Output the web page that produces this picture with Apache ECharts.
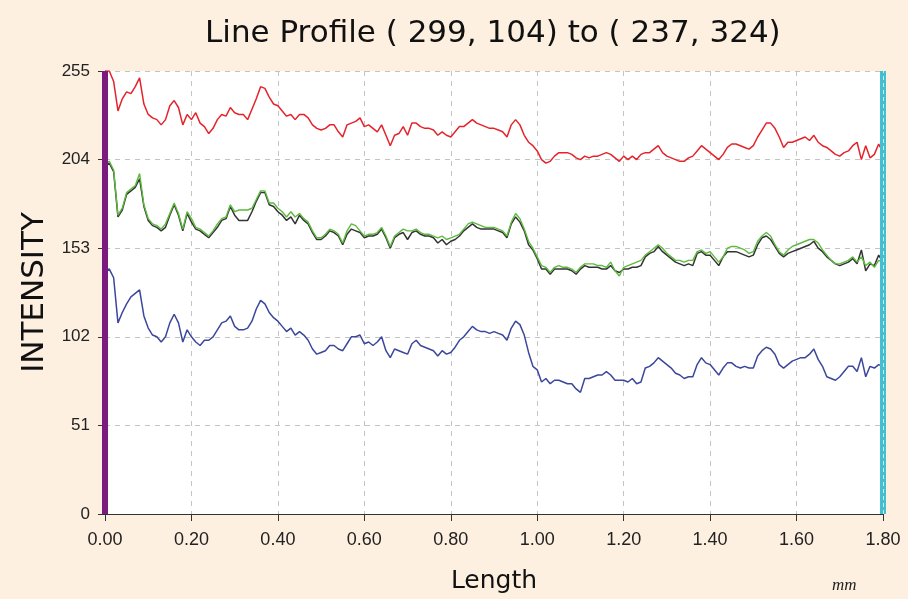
<!DOCTYPE html>
<html>
<head>
<meta charset="utf-8">
<script src="https://cdn.jsdelivr.net/npm/echarts@6/dist/echarts.min.js"></script>
<style>
html,body{margin:0;padding:0;background:#fdf0e1;}
#chart{width:908px;height:599px;}
</style>
</head>
<body>
<div id="chart"></div>
<script>
// sampling step along the profile (mm)
const STEP_MM = 0.01;

const redValues = [255,255,249,232,239,243,242,246,251,236,
230,228,227,224,227,235,238,234,224,230,
227,231,225,223,219,222,227,230,229,234,
231,230,230,227,233,239,246,245,240,236,
235,232,229,230,227,230,230,228,224,222,
221,222,224,224,220,217,224,225,226,228,
223,224,222,220,224,218,212,218,219,223,
218,225,225,223,222,222,221,218,220,218,
217,220,223,223,225,227,225,224,223,222,
222,221,220,217,224,227,224,218,214,212,
209,204,202,203,206,208,208,208,207,205,
204,206,205,206,206,207,208,207,205,203,
206,204,206,204,207,208,208,210,212,208,
206,205,204,203,203,205,206,209,212,210,
208,206,204,207,211,213,213,212,211,210,
212,217,221,225,225,222,217,211,214,214,
215,216,217,215,218,214,212,211,209,207,
206,208,209,212,214,204,212,205,207,213,
208];

const greenValues = [202,203,198,172,176,185,187,189,196,178,
170,167,166,164,167,173,179,173,164,174,
170,165,164,162,160,163,167,170,171,178,
174,175,175,175,176,181,186,186,179,179,
176,174,171,174,171,173,170,168,163,159,
159,161,164,163,161,156,163,167,166,163,
160,161,161,162,165,160,154,160,162,164,
163,163,164,162,161,161,160,159,160,158,
159,160,161,164,167,168,167,166,165,165,
165,164,163,160,168,173,170,164,157,153,
148,143,142,139,142,143,142,142,141,139,
142,144,144,144,143,143,142,145,140,137,
142,143,144,145,146,149,151,153,155,153,
150,148,146,146,145,146,146,151,152,150,
151,148,145,148,153,154,154,153,152,150,
151,157,160,162,160,155,151,149,152,154,
155,156,157,158,158,156,152,149,146,144,
144,145,146,148,145,148,143,145,142,146,
145];

const blackValues = [201,202,197,171,175,184,186,188,193,177,
169,166,165,163,165,172,178,172,163,173,
168,164,163,161,159,162,165,169,170,177,
172,169,169,169,174,180,185,185,178,177,
174,172,169,171,167,172,169,167,162,158,
158,160,163,162,160,155,161,164,163,162,
159,160,160,161,164,159,153,159,161,162,
158,162,163,161,160,160,159,156,158,155,
157,158,160,163,165,167,165,164,164,164,
164,163,162,159,167,171,168,163,155,152,
147,141,141,138,141,141,141,141,140,138,
141,143,142,142,142,141,141,143,140,139,
141,141,142,142,143,148,150,151,154,151,
149,147,145,144,143,144,143,150,151,149,
149,146,143,148,151,151,151,150,149,148,
149,155,159,160,158,154,150,148,150,151,
152,153,154,155,157,153,151,148,146,144,
143,144,145,147,144,152,140,144,143,149,
145];

const blueValues = [140,141,136,110,116,121,125,127,129,114,
107,103,102,99,102,110,115,110,99,106,
102,99,97,100,100,102,106,110,111,114,
108,106,106,107,111,118,123,121,116,113,
111,108,105,107,103,105,103,100,95,92,
93,94,97,97,95,94,98,102,102,103,
98,99,97,99,102,94,90,95,94,93,
92,98,100,97,96,95,94,91,94,92,
93,96,100,102,105,108,106,105,105,104,
105,104,103,100,107,111,109,103,93,85,
83,76,78,75,77,77,76,75,75,72,
70,78,78,79,80,80,82,80,77,77,
77,76,78,75,76,84,85,87,90,88,
86,84,81,80,78,79,79,86,90,87,
86,83,80,84,87,87,85,84,85,84,
84,91,94,96,95,92,86,84,86,88,
89,90,90,92,95,89,85,79,78,77,
79,82,85,85,82,90,79,85,84,86,
85];

// axis settings
const xMin = 0, xMax = 1.8, xInterval = 0.2;
const yMin = 0, yMax = 255, yInterval = 51;
// profile cursor positions (start and end of the line, mm)
const cursorStart = 0.0;
const cursorEnd = 1.8;

const positions = redValues.map((_, i) => +(i * STEP_MM).toFixed(2));
const toPairs = arr => arr.map((v, i) => [positions[i], v]);

const chart = echarts.init(document.getElementById('chart'), null, {renderer: 'canvas'});

const gridLine = {show: true, lineStyle: {color: '#c3c3c3', width: 1, type: [5, 5]}};

const option = {
  backgroundColor: '#fdf0e1',
  animation: false,
  title: {
    text: 'Line Profile ( 299, 104) to ( 237, 324)',
    left: 205,
    top: 18,
    padding: 0,
    textStyle: {fontFamily: 'DejaVu Sans', fontSize: 31, fontWeight: 'normal', color: '#111'}
  },
  grid: {left: 105, right: 25, top: 71, bottom: 85, show: true, backgroundColor: '#ffffff', borderWidth: 0},
  xAxis: {
    type: 'value', min: xMin, max: xMax, interval: xInterval,
    name: 'Length', nameLocation: 'middle', nameGap: 55,
    nameTextStyle: {fontFamily: 'DejaVu Sans', fontSize: 25, color: '#111'},
    axisLine: {show: true, onZero: false, lineStyle: {color: '#333', width: 1}},
    axisTick: {show: true, length: 7, lineStyle: {color: '#333'}},
    axisLabel: {margin: 17, fontFamily: 'Liberation Sans', fontSize: 18, color: '#222',
      formatter: v => v.toFixed(2)},
    splitLine: gridLine
  },
  yAxis: {
    type: 'value', min: yMin, max: yMax, interval: yInterval,
    name: 'INTENSITY', nameLocation: 'middle', nameGap: 55, nameRotate: 90,
    nameTextStyle: {fontFamily: 'DejaVu Sans', fontSize: 31, color: '#111'},
    axisLine: {show: true, lineStyle: {color: '#333', width: 1}},
    axisTick: {show: true, length: 7, lineStyle: {color: '#333'}},
    axisLabel: {margin: 15, fontFamily: 'Liberation Sans', fontSize: 17, color: '#222'},
    splitLine: gridLine
  },
  graphic: [{
    type: 'text', left: 832, top: 577,
    style: {text: 'mm', font: 'italic 17px "Liberation Serif"', fill: '#222'}
  }],
  series: [
    {name: 'Red', type: 'line', data: toPairs(redValues), showSymbol: false,
     lineStyle: {color: '#e5232b', width: 1.5}, itemStyle: {color: '#e5232b'}},
    {name: 'Black', type: 'line', data: toPairs(blackValues), showSymbol: false,
     lineStyle: {color: '#333333', width: 1.5}, itemStyle: {color: '#333333'}},
    {name: 'Green', type: 'line', data: toPairs(greenValues), showSymbol: false,
     lineStyle: {color: '#5cbb3c', width: 1.4}, itemStyle: {color: '#5cbb3c'}},
    {name: 'Blue', type: 'line', data: toPairs(blueValues), showSymbol: false,
     lineStyle: {color: '#3a479b', width: 1.5}, itemStyle: {color: '#3a479b'},
     markLine: {
       silent: true, symbol: ['none', 'none'], label: {show: false}, animation: false,
       data: [
         {xAxis: cursorStart, lineStyle: {color: '#7a1b7d', width: 6, type: 'solid'}},
         {xAxis: cursorEnd, lineStyle: {color: '#45bfcf', width: 6, type: 'solid'}},
         {xAxis: cursorEnd, lineStyle: {color: '#bfeef3', width: 1, type: [4, 3]}}
       ]
     }}
  ]
};
chart.setOption(option);
</script>
</body>
</html>
